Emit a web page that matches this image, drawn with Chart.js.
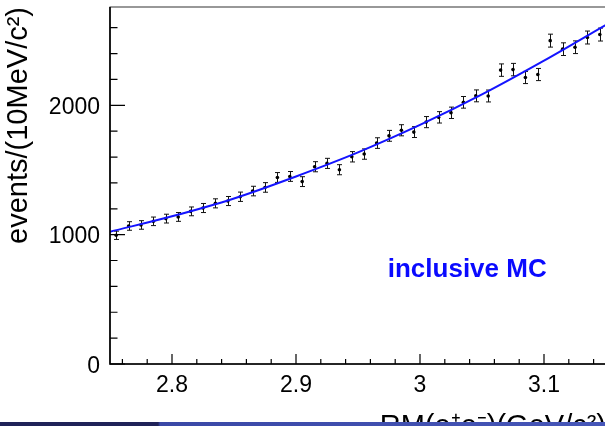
<!DOCTYPE html>
<html>
<head>
<meta charset="utf-8">
<script src="https://cdn.jsdelivr.net/npm/chart.js@4.4.0/dist/chart.umd.min.js"></script>
<style>
  html, body { margin: 0; padding: 0; background: #fff; overflow: hidden; }
  #wrap { position: relative; width: 605px; height: 426px; overflow: hidden; background: #fff; }
  #chart { position: absolute; left: 0; top: 0; }
  #band { position: absolute; left: 0; bottom: 0; width: 605px; height: 4px;
          background: linear-gradient(to right, #1f2258 0, #1f2258 158px, #3a48a6 160px, #4656b8 605px); }
</style>
</head>
<body>
<div id="wrap">
  <canvas id="chart" width="610" height="450"></canvas>
  <div id="band"></div>
</div>
<script>
// bin centres of the 10 MeV bins (GeV/c^2)
const binCenters = [2.755, 2.765, 2.775, 2.785, 2.795, 2.805, 2.815, 2.825, 2.835, 2.845,
                    2.855, 2.865, 2.875, 2.885, 2.895, 2.905, 2.915, 2.925, 2.935, 2.945,
                    2.955, 2.965, 2.975, 2.985, 2.995, 3.005, 3.015, 3.025, 3.035, 3.045,
                    3.055, 3.065, 3.075, 3.085, 3.095, 3.105, 3.115, 3.125, 3.135, 3.145];
// inclusive MC events per bin
const events = [995, 1067, 1075, 1103, 1124, 1137, 1180, 1206, 1242, 1260,
                1293, 1337, 1365, 1442, 1450, 1410, 1525, 1551, 1502, 1602,
                1623, 1708, 1764, 1807, 1793, 1870, 1907, 1942, 2023, 2073,
                2072, 2272, 2276, 2215, 2238, 2500, 2434, 2449, 2524, 2547];
const errors = [32, 33, 33, 33, 34, 34, 34, 35, 35, 35,
                36, 37, 37, 38, 38, 38, 39, 39, 39, 40,
                40, 41, 42, 43, 42, 43, 44, 44, 45, 46,
                46, 48, 48, 47, 47, 50, 49, 49, 50, 50];
// fitted background curve
const fitX = [2.75, 2.80, 2.85, 2.90, 2.95, 3.00, 3.05, 3.10, 3.15];
const fitY = [1023, 1142, 1280, 1450, 1636, 1848, 2084, 2345, 2622];

const xLabels = [2.8, 2.9, 3, 3.1];
const yLabels = [0, 1000, 2000];

const FONT = '"Liberation Sans", Arial, Helvetica, sans-serif';
Chart.defaults.font.family = FONT;
Chart.defaults.color = '#000';

const isLabel = (list, v) => list.some(m => Math.abs(m - v) < 1e-6);

// ROOT style decorations: inward ticks, frame, error bars, label
const rootDecor = {
  id: 'rootDecor',
  beforeDatasetsDraw(chart) {
    const { ctx, scales: { x, y } } = chart;
    ctx.save();
    ctx.strokeStyle = '#111';
    ctx.lineWidth = 1;
    binCenters.forEach((c, i) => {
      const px = Math.round(x.getPixelForValue(c)) + 0.5;
      const lo = y.getPixelForValue(events[i] - errors[i]);
      const hi = y.getPixelForValue(events[i] + errors[i]);
      ctx.beginPath();
      ctx.moveTo(px, lo); ctx.lineTo(px, hi);
      ctx.moveTo(px - 2.5, lo); ctx.lineTo(px + 2.5, lo);
      ctx.moveTo(px - 2.5, hi); ctx.lineTo(px + 2.5, hi);
      ctx.stroke();
    });
    ctx.restore();
  },
  afterDraw(chart) {
    const { ctx, chartArea: a, scales: { x, y } } = chart;
    ctx.save();
    // frame
    ctx.lineWidth = 1;
    ctx.strokeStyle = '#333';
    ctx.strokeRect(a.left, a.top, a.right - a.left, a.bottom - a.top);
    ctx.strokeStyle = '#000';
    ctx.lineWidth = 1.6;
    ctx.beginPath();
    ctx.moveTo(a.left, a.top); ctx.lineTo(a.left, a.bottom); ctx.lineTo(a.right, a.bottom);
    ctx.stroke();
    // ticks
    ctx.lineWidth = 1.2;
    ctx.beginPath();
    for (let v = 2.76; v < 3.15; v += 0.02) {
      const px = x.getPixelForValue(v);
      const len = isLabel(xLabels, Math.round(v * 100) / 100) ? 10 : 5;
      ctx.moveTo(px, a.bottom); ctx.lineTo(px, a.bottom - len);
    }
    for (let v = 0; v <= 2700; v += 200) {
      const py = y.getPixelForValue(v);
      const len = isLabel(yLabels, v) ? 15 : 7.5;
      ctx.moveTo(a.left, py); ctx.lineTo(a.left + len, py);
    }
    ctx.stroke();
    // label
    ctx.fillStyle = '#0a0aff';
    ctx.font = 'bold 26px ' + FONT;
    ctx.textAlign = 'left';
    ctx.textBaseline = 'middle';
    ctx.fillText('inclusive MC', x.getPixelForValue(2.974), y.getPixelForValue(730));
    ctx.restore();
  }
};

new Chart(document.getElementById('chart'), {
  type: 'scatter',
  data: {
    datasets: [
      {
        label: 'fit',
        type: 'line',
        data: fitX.map((v, i) => ({ x: v, y: fitY[i] })),
        borderColor: '#1414ff',
        borderWidth: 2,
        pointRadius: 0,
        cubicInterpolationMode: 'monotone',
        fill: false,
        order: 0
      },
      {
        label: 'inclusive MC',
        data: binCenters.map((v, i) => ({ x: v, y: events[i] })),
        backgroundColor: '#000',
        borderWidth: 0,
        pointRadius: 1.8,
        order: 1
      }
    ]
  },
  options: {
    responsive: false,
    animation: false,
    devicePixelRatio: 1,
    layout: { padding: { top: 7, right: 3, bottom: 6, left: 0 } },
    plugins: { legend: { display: false }, tooltip: { enabled: false } },
    scales: {
      x: {
        type: 'linear',
        min: 2.75,
        max: 3.15,
        grid: { display: false, drawTicks: false },
        border: { display: false },
        afterBuildTicks: s => { s.ticks = xLabels.map(v => ({ value: v })); },
        ticks: {
          autoSkip: false,
          maxRotation: 0,
          padding: 8,
          font: { size: 23 },
          callback: v => String(+v.toFixed(2))
        },
        title: {
          display: true,
          text: 'RM(e⁺e⁻)(GeV/c²)',
          align: 'end',
          font: { size: 29 },
          padding: 0
        },
        afterFit: s => { s.height = 80; s.paddingLeft = 0; s.paddingRight = 0; }
      },
      y: {
        min: 0,
        max: 2760,
        grid: { display: false, drawTicks: false },
        border: { display: false },
        afterBuildTicks: s => { s.ticks = yLabels.map(v => ({ value: v })); },
        ticks: {
          autoSkip: false,
          padding: 10,
          labelOffset: 2.5,
          font: { size: 23 },
          callback: v => String(v)
        },
        title: {
          display: true,
          text: 'events/(10MeV/c²)',
          align: 'end',
          font: { size: 29 },
          padding: { top: 2, bottom: 0 }
        },
        afterFit: s => { s.width = 110; s.paddingTop = 0; s.paddingBottom = 0; }
      }
    }
  },
  plugins: [rootDecor]
});
</script>
</body>
</html>
